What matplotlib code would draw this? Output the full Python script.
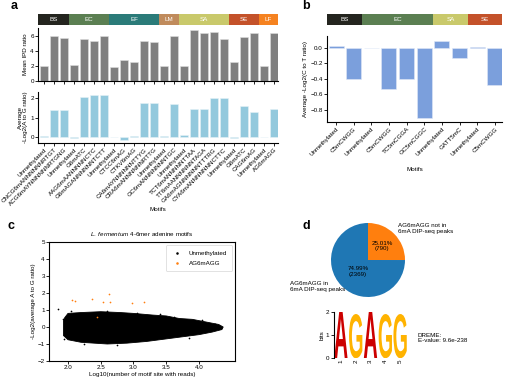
import matplotlib
matplotlib.use('Agg')
import matplotlib.pyplot as plt
import numpy as np
from matplotlib.textpath import TextPath
from matplotlib.patches import PathPatch
from matplotlib.font_manager import FontProperties
from matplotlib.transforms import Affine2D

plt.rcParams['font.family'] = ['Liberation Sans', 'DejaVu Sans']
plt.rcParams['mathtext.fontset'] = 'custom'
plt.rcParams['mathtext.it'] = 'Liberation Sans:italic'
plt.rcParams['mathtext.rm'] = 'Liberation Sans'
plt.rcParams['axes.linewidth'] = 0.8
plt.rcParams['xtick.major.width'] = 0.6
plt.rcParams['ytick.major.width'] = 0.6
plt.rcParams['xtick.major.size'] = 2
plt.rcParams['ytick.major.size'] = 2
plt.rcParams['xtick.major.pad'] = 1
plt.rcParams['ytick.major.pad'] = 1

# ---- data: panel a ----
a_motifs = ['Unmethylated', 'CNCG6mANNNNNNRTGT', 'ACG6mAYNNNNNNRTGNG', 'Unmethylated',
            'G6mATC', 'AAG6mAANNNNNCTC', 'G6mAGANNNNNNTCTT', 'Unmethylated',
            'CTCC6mAG', 'CTKV6mAG', 'CA6mAYNNNNNNTTYG', 'CRA6mANNNNNNRTTG',
            'Unmethylated', 'GC6mANNNNNNNTGC', 'Unmethylated', 'TCT6mANNNNNTTAA',
            'TT6mAANNNNNNTAGA', 'GA6mAGNNNNNNTTTRG', 'CYA6mANNNNNNNCTTC', 'Unmethylated',
            'G6mATC', 'CAG6mAG', 'Unmethylated', 'AG6mAGG']
a_ipd = [2.0, 5.9, 5.7, 2.1, 5.6, 5.3, 6.0, 1.8, 2.8, 2.5, 5.3, 5.1,
         2.0, 5.9, 2.0, 6.7, 6.3, 6.5, 5.6, 2.5, 5.8, 6.4, 2.0, 6.4]
a_ratio = [0.08, 1.38, 1.38, -0.05, 2.03, 2.15, 2.17, 0.0, -0.12, 0.06, 1.76, 1.76,
           0.08, 1.68, 0.10, 1.42, 1.42, 2.02, 2.02, -0.03, 1.60, 1.28, 0.02, 1.42]
a_groups = ['BS', 'EC', 'EF', 'LM', 'SA', 'SE', 'LF']
a_group_sizes = [3, 4, 5, 2, 5, 3, 2]

# ---- data: panel b ----
b_motifs = ['Unmethylated', 'C5mCWGG', 'Unmethylated', 'C5mCWGG', 'TC5mCGGA',
            'GC5mCGGC', 'Unmethylated', 'GATT5mC', 'Unmethylated', 'C5mCWGG']
b_ratio = [0.02, -0.40, -0.01, -0.53, -0.41, -0.91, 0.09, -0.13, 0.01, -0.48]
b_groups = ['BS', 'EC', 'SA', 'SE']
b_group_sizes = [2, 4, 2, 2]

group_colors = {'BS': '#24251f', 'EC': '#5b7f52', 'EF': '#2b7b79', 'LM': '#c08b5c',
                'SA': '#c9c96b', 'SE': '#c4522a', 'LF': '#f58220'}

# ---- data: panel c ----
# dense cloud of unmethylated motifs, outline
cloud_x = [1.93, 1.95, 2.00, 2.20, 2.50, 2.80, 3.00, 3.30, 3.50, 3.70, 3.90, 4.10, 4.30, 4.37,
           4.35, 4.20, 4.00, 3.80, 3.50, 3.20, 2.90, 2.60, 2.40, 2.20, 2.00, 1.93]
cloud_y = [0.35, 0.55, 0.80, 0.85, 0.90, 0.85, 0.80, 0.70, 0.65, 0.50, 0.45, 0.30, 0.15, 0.00,
           -0.15, -0.30, -0.45, -0.55, -0.70, -0.85, -0.95, -1.00, -0.95, -0.90, -0.75, -0.50]
unmeth_x = [1.85, 1.92, 1.94, 2.05, 2.25, 2.60, 2.75, 3.05, 3.40, 3.62, 3.85, 4.05, 4.25, 4.33]
unmeth_y = [1.07, 0.50, -0.70, 0.95, -0.98, 0.95, -1.05, 0.85, 0.75, 0.60, -0.62, 0.40, 0.20, -0.05]
ag_x = [2.06, 2.10, 2.37, 2.53, 2.62, 2.64, 2.98, 3.16, 2.44]
ag_y = [1.58, 1.55, 1.62, 1.50, 1.95, 1.45, 1.40, 1.45, 0.58]

# ---- data: panel d ----
pie_values = [790, 2369]
pie_pct = ['25.01%\n(790)', '74.99%\n(2369)']
logo_letters = ['A', 'G', 'A', 'G', 'G']
logo_bits = [2.0, 1.9, 2.0, 1.9, 1.9]
logo_colors = {'A': '#cc0000', 'G': '#ffb300'}

W, H = 505, 380
fig = plt.figure(figsize=(W / 100, H / 100), dpi=100)


def add_ax(x0, y0, x1, y1):
    # pixel box (top-left origin) -> axes
    return fig.add_axes([x0 / W, 1 - y1 / H, (x1 - x0) / W, (y1 - y0) / H])


def cat_bar(ax, groups, sizes, xlim):
    edges = np.concatenate([[0], np.cumsum(sizes)]) - 0.5
    edges[0], edges[-1] = xlim
    for g, l, r in zip(groups, edges[:-1], edges[1:]):
        ax.barh(0, r - l, left=l, height=1, color=group_colors[g], edgecolor='none')
        ax.text((l + r) / 2, 0, g, color='white', ha='center', va='center', fontsize=4.5)
    ax.set_xlim(xlim)
    ax.set_ylim(-0.5, 0.5)
    ax.axis('off')


def clean(ax):
    ax.spines['top'].set_visible(False)
    ax.spines['right'].set_visible(False)
    ax.tick_params(labelsize=4.5)


# ---------- panel a ----------
a_xlim = (-0.6, 23.4)
xa = np.arange(len(a_motifs))
cat_bar(add_ax(38, 14, 278, 25), a_groups, a_group_sizes, a_xlim)

ax1 = add_ax(38, 28, 278, 81)
ax1.bar(xa, a_ipd, width=0.85, color='#7f7f7f', edgecolor='#dddddd', linewidth=0.4)
ax1.set_xlim(a_xlim)
ax1.set_ylim(0, 7)
ax1.set_yticks([0, 2, 4, 6])
ax1.set_xticks(xa)
ax1.set_xticklabels([])
ax1.set_ylabel('Mean IPD ratio', fontsize=4.5, labelpad=2)
clean(ax1)

ax2 = add_ax(38, 92, 278, 143)
ax2.bar(xa, a_ratio, width=0.85, color='#93c9dd', edgecolor='#e6f2f7', linewidth=0.4)
ax2.set_xlim(a_xlim)
ax2.set_ylim(-0.28, 2.3)
ax2.set_yticks([0, 1, 2])
ax2.set_xticks(xa)
ax2.set_xticklabels(a_motifs, rotation=45, ha='right', rotation_mode='anchor', fontsize=3.6)
ax2.set_ylabel('Average\n-Log2(A to G ratio)', fontsize=4.5, labelpad=2, linespacing=0.9)
ax2.set_xlabel('Motifs', fontsize=4.5, labelpad=0)
clean(ax2)

# ---------- panel b ----------
b_xlim = (-0.51, 9.4)
xb = np.arange(len(b_motifs))
cat_bar(add_ax(327, 14, 502, 25), b_groups, b_group_sizes, b_xlim)

ax3 = add_ax(327, 36, 502, 122)
ax3.bar(xb, b_ratio, width=0.85, color='#7b9fdc', edgecolor='#e0e8f7', linewidth=0.4)
ax3.set_xlim(b_xlim)
ax3.set_ylim(-0.96, 0.15)
ax3.set_yticks([0.0, -0.2, -0.4, -0.6, -0.8])
ax3.set_xticks(xb)
ax3.set_xticklabels(b_motifs, rotation=45, ha='right', rotation_mode='anchor', fontsize=4)
ax3.set_ylabel('Average -Log2(C to T ratio)', fontsize=4.5, labelpad=2)
ax3.set_xlabel('Motifs', fontsize=4.5, labelpad=7)
clean(ax3)

# ---------- panel c ----------
ax4 = add_ax(49, 242, 235, 361)
ax4.fill(cloud_x, cloud_y, color='black', linewidth=0.6, edgecolor='black')
ax4.scatter(unmeth_x, unmeth_y, s=1.5, color='black', label='Unmethylated', linewidths=0)
ax4.scatter(ag_x, ag_y, s=1.5, color='#ff7f0e', label='AG6mAGG', linewidths=0)
ax4.set_xlim(1.71, 4.55)
ax4.set_ylim(-2, 5)
ax4.set_xticks([2.0, 2.5, 3.0, 3.5, 4.0])
ax4.set_yticks(range(-2, 6))
ax4.tick_params(labelsize=4.5)
ax4.set_xlabel('Log10(number of motif site with reads)', fontsize=4.5, labelpad=1)
ax4.set_ylabel('-Log2(average A to G ratio)', fontsize=4.5, labelpad=1)
ax4.set_title(r'$\it{L.\ fermentum}$ 4-6mer adenine motifs', fontsize=4.5, pad=4)
leg = ax4.legend(loc='upper right', fontsize=4.5, markerscale=1.5, handletextpad=0.8,
                 borderpad=0.8, labelspacing=0.8)
leg.get_frame().set_linewidth(0.5)

# ---------- panel d ----------
ax5 = add_ax(331, 223, 405, 297)
wedges, _ = ax5.pie(pie_values, colors=['#ff7f0e', '#1f77b4'], startangle=90,
                    counterclock=False, radius=1)
ax5.set_xlim(-1, 1)
ax5.set_ylim(-1, 1)
ax5.text(0.38, 0.38, pie_pct[0], ha='center', va='center', fontsize=4.5)
ax5.text(-0.27, -0.32, pie_pct[1], ha='center', va='center', fontsize=4.5)
fig.text(398 / W, 1 - 223 / H, 'AG6mAGG not in\n6mA DIP-seq peaks', ha='left', va='top', fontsize=4.5)
fig.text(290 / W, 1 - 281 / H, 'AG6mAGG in\n6mA DIP-seq peaks', ha='left', va='top', fontsize=4.5)

ax6 = add_ax(333.5, 311.7, 407.5, 358.3)
fp = FontProperties(family='Liberation Sans', weight='bold')
for i, (ch, h) in enumerate(zip(logo_letters, logo_bits)):
    tp = TextPath((0, 0), ch, size=1, prop=fp)
    bb = tp.get_extents()
    tr = Affine2D().translate(-bb.x0, -bb.y0).scale(0.9 / bb.width, h / bb.height).translate(i + 1 - 0.45, 0)
    ax6.add_patch(PathPatch(tr.transform_path(tp), facecolor=logo_colors[ch], edgecolor='none'))
ax6.set_xlim(0.5, 5.5)
ax6.set_ylim(0, 2)
ax6.set_yticks([0, 1, 2])
ax6.set_xticks(range(1, 6))
ax6.set_xticklabels([str(i) for i in range(1, 6)], rotation=90)
ax6.tick_params(labelsize=4.5)
ax6.tick_params(axis='x', length=0, pad=1)
for s in ['top', 'right', 'bottom']:
    ax6.spines[s].set_visible(False)
ax6.set_ylabel('bits', fontsize=4.5, labelpad=1)
fig.text(418 / W, 1 - 338 / H, 'DREME:\nE-value: 9.6e-238', ha='left', va='center', fontsize=4.5)

# panel letters
for lab, px, py in [('a', 14, 6), ('b', 306, 6), ('c', 11, 226), ('d', 306, 226)]:
    fig.text(px / W, 1 - py / H, lab, fontsize=9, fontweight='bold', ha='center', va='center')

fig.savefig('out.png', dpi=100)
